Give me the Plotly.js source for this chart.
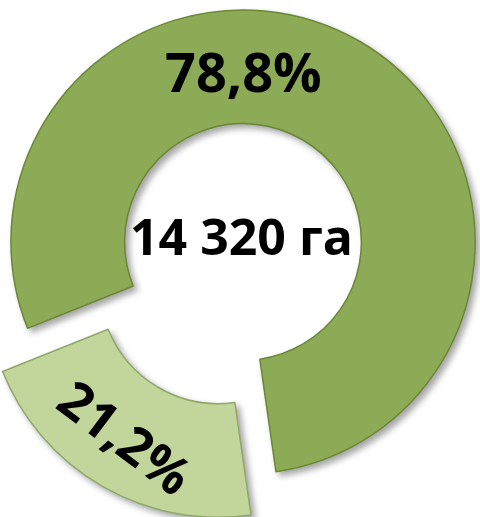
<!DOCTYPE html>
<html>
<head>
<meta charset="utf-8">
<script src="https://cdn.plot.ly/plotly-3.0.1.min.js"></script>
<style>
  html, body { margin: 0; padding: 0; width: 480px; height: 517px; overflow: hidden; background: #ffffff; }
  #chart { position: absolute; left: -39px; top: -40px; width: 564px; height: 564px; }
  #chart .pielayer .slice path.surface { filter: drop-shadow(4px 4px 3px rgba(0,0,0,0.35)); }
</style>
</head>
<body>
<div id="chart"></div>
<script>
// Data
const categories = ["Доля 1", "Доля 2"];
const shares = [21.2, 78.8];          // percent
const totalArea = 14320;              // hectares
const areaUnit = "га";

const colors = ["#C2D69B", "#8DAB56"];
const lineColors = ["#8FA86A", "#6A8736"];

function fmtPct(v) { return v.toFixed(1).replace(".", ",") + "%"; }
function fmtArea(v) { return String(v).replace(/\B(?=(\d{3})+(?!\d))/g, " ") + " " + areaUnit; }

const smallSpanDeg = shares[0] / shares.reduce((a, b) => a + b, 0) * 360;

const trace = {
  type: "pie",
  labels: categories,
  values: shares,
  hole: 0.51,
  sort: false,
  direction: "clockwise",
  rotation: 210 - smallSpanDeg / 2,
  pull: [0.215, 0],
  marker: { colors: colors, line: { color: lineColors, width: 1.5 } },
  textinfo: "none",
  hoverinfo: "none",
  showlegend: false
};

const labelFont = { family: "Open Sans", size: 54, color: "#000000", weight: "bold" };

const layout = {
  margin: { l: 0, r: 0, t: 0, b: 0 },
  paper_bgcolor: "#ffffff",
  plot_bgcolor: "#ffffff",
  showlegend: false,
  annotations: [
    { text: fmtPct(shares[1]), x: 0.5, y: 0.803, xref: "paper", yref: "paper",
      xanchor: "center", yanchor: "middle", showarrow: false, font: labelFont },
    { text: fmtArea(totalArea), x: 0.4965, y: 0.5106, xref: "paper", yref: "paper",
      xanchor: "center", yanchor: "middle", showarrow: false,
      font: { family: "Open Sans", size: 50, color: "#000000", weight: "bold" } },
    { text: fmtPct(shares[0]), x: 0.2943, y: 0.156, xref: "paper", yref: "paper",
      xanchor: "center", yanchor: "middle", showarrow: false, textangle: 37,
      font: { family: "Open Sans", size: 52, color: "#000000", weight: "bold" } }
  ]
};

Plotly.newPlot("chart", [trace], layout, { staticPlot: true, displayModeBar: false });
</script>
</body>
</html>
